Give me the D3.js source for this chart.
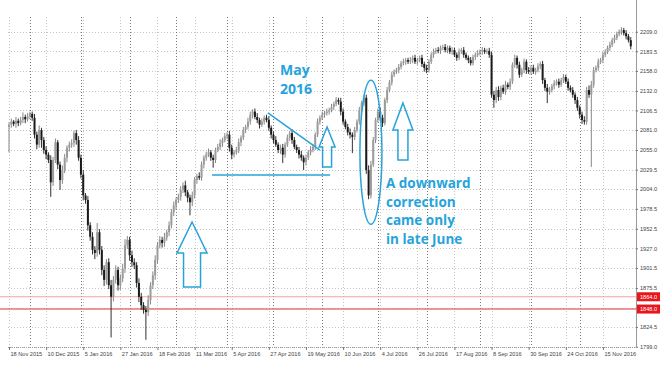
<!DOCTYPE html>
<html><head><meta charset="utf-8">
<script src="https://cdn.jsdelivr.net/npm/d3@7"></script>
<style>html,body{margin:0;padding:0;background:#fff;} svg{display:block}</style>
</head><body>
<svg id="c" width="660" height="366"></svg>
<script>
// ---------- data ----------
const firstOpen = 2085;
const closes = [
 2088,2092,2089,2093,2090,2094,2098,2095,2099,2102,
 2097,2075,2062,2081,2068,2055,2049,2042,2013,2042,
 2065,2036,2016,2029,2045,2058,2062,2064,2077,2068,
 2045,2023,1996,1990,1957,1942,1925,1921,1948,1925,
 1899,1886,1909,1879,1864,1886,1899,1879,1888,1901,
 1931,1938,1918,1909,1905,1882,1864,1853,1847,1844,
 1860,1879,1892,1912,1931,1938,1934,1941,1948,1957,
 1974,1983,1990,1994,2003,2009,2000,1993,1987,1996,
 2016,2021,2019,2036,2045,2049,2052,2045,2042,2055,
 2059,2064,2068,2073,2075,2058,2049,2052,2055,2065,
 2071,2081,2085,2092,2101,2105,2098,2094,2088,2092,
 2097,2094,2084,2075,2068,2062,2055,2058,2049,2062,
 2071,2077,2068,2059,2055,2049,2045,2039,2045,2052,
 2055,2059,2075,2092,2097,2101,2103,2105,2107,2111,
 2115,2120,2118,2105,2092,2085,2078,2075,2072,2081,
 2092,2107,2116,2123,2029,1996,2036,2068,2094,2105,
 2097,2090,2120,2133,2143,2153,2157,2159,2163,2168,
 2170,2172,2170,2172,2175,2170,2172,2175,2167,2162,
 2159,2170,2179,2183,2185,2184,2188,2189,2185,2188,
 2183,2185,2179,2175,2183,2185,2179,2175,2172,2168,
 2176,2179,2181,2183,2185,2183,2184,2179,2127,2120,
 2133,2124,2136,2131,2140,2137,2144,2166,2175,2166,
 2153,2159,2170,2159,2157,2162,2157,2159,2164,2167,
 2146,2136,2131,2133,2138,2142,2144,2140,2146,2150,
 2144,2136,2133,2127,2120,2110,2101,2094,2092,2133,
 2127,2140,2159,2162,2170,2172,2179,2183,2188,2192,
 2198,2201,2206,2209,2211,2207,2203,2198,2190];
const wickUp = [
 3,4,2,5,3,4,6,3,4,3, 3,5,4,6,3,4,5,3,6,4, 5,3,4,6,5,3,4,5,3,4, 5,4,6,3,5,4,6,5,12,4,
 5,6,4,5,7,5,6,4,5,6, 8,5,4,6,5,4,6,5,4,5, 6,4,5,6,4,5,4,6,3,5, 4,5,3,4,5,4,6,3,4,5,
 4,3,5,4,3,4,5,3,4,3, 4,5,3,4,3,5,4,3,4,5, 3,4,3,5,4,3,4,5,3,4, 3,4,5,3,4,5,3,4,5,3,
 4,3,5,4,3,4,5,3,4,3, 5,4,3,4,3,4,3,4,3,4, 3,4,3,5,4,3,4,5,3,4, 3,4,3,4,4,6,5,4,3,4,
 5,4,3,4,3,4,3,3,4,3, 4,3,3,4,3,4,3,3,4,3, 4,3,3,4,3,4,3,3,4,3, 3,4,3,3,4,3,4,3,3,4,
 3,3,4,3,4,3,3,4,4,5, 4,5,3,4,5,3,4,3,4,3, 4,3,4,3,4,3,4,3,4,3, 4,3,5,4,3,4,3,4,3,4,
 3,4,3,4,3,4,3,4,5,4, 6,5,4,3,4,3,4,3,3,4, 3,4,3,3,4,3,4,3,4];
const wickDn = [
 33,4,3,5,4,3,4,5,3,4, 4,5,6,4,10,5,6,4,19,5, 4,6,13,5,4,6,5,4,5,6, 4,5,6,5,7,5,6,8,5,6,
 7,8,6,5,53,6,5,7,6,5, 6,5,7,6,5,6,7,6,5,36, 5,6,5,6,5,4,6,5,4,5, 4,5,6,4,5,4,5,6,17,5,
 4,5,3,4,5,4,3,4,10,4, 3,4,5,3,4,5,6,4,3,4, 5,3,4,3,4,5,3,4,5,3, 4,3,4,5,4,3,4,5,11,4,
 3,4,5,3,4,5,4,10,4,3, 4,3,4,3,4,3,4,3,4,3, 4,3,4,5,4,3,4,5,21,4, 3,4,3,4,5,5,4,3,4,3,
 4,5,3,4,3,4,3,3,4,3, 3,4,3,3,4,3,4,3,4,5, 4,3,3,4,3,3,4,3,3,4, 3,4,3,4,3,3,4,3,4,3,
 3,4,3,3,4,3,3,4,4,10, 4,5,4,3,4,3,4,3,4,5, 4,3,4,5,3,4,3,4,3,4, 5,4,15,4,3,4,3,4,3,4,
 3,4,3,4,5,4,5,5,4,4, 4,94,4,3,4,3,4,3,3,4, 3,4,3,3,4,3,4,3,4];
const xTickIndex = [0,16,32,48,64,80,96,112,128,144,160,176,192,208,224,240,256];
const xTickLabels = ["18 Nov 2015","10 Dec 2015","5 Jan 2016","27 Jan 2016","18 Feb 2016","11 Mar 2016",
 "5 Apr 2016","27 Apr 2016","19 May 2016","10 Jun 2016","4 Jul 2016","26 Jul 2016","17 Aug 2016",
 "8 Sep 2016","30 Sep 2016","24 Oct 2016","15 Nov 2016"];
const monthSeparatorIndex = [9,31,52,72,94,114,135,159,180,203,225,246];
const yTickValues = [2209.0,2183.5,2158.0,2132.0,2106.5,2081.0,2055.0,2029.5,2004.0,1978.5,1952.5,
 1927.0,1901.5,1875.5,1850.0,1824.5,1799.0];
const levelValues = [1864.0, 1848.0];

// ---------- build ----------
const bars = closes.map((c, i) => {
  const o = i === 0 ? firstOpen : closes[i - 1];
  return { i, o, c, h: Math.max(o, c) + wickUp[i], l: Math.min(o, c) - wickDn[i] };
});

const svg = d3.select("#c");
const plotTop = 17, plotBottom = 347, plotLeft = 8, plotRight = 636;
const x = d3.scaleLinear().domain([0, closes.length - 1]).range([9, 9 + 2.32 * (closes.length - 1)]);
const y = d3.scaleLinear().domain([1799, 2209]).range([346.7, 31.7]);

// horizontal grid
svg.append("g").selectAll("line").data(yTickValues).join("line")
  .attr("x1", plotLeft).attr("x2", plotRight)
  .attr("y1", d => Math.round(y(d)) + 0.5).attr("y2", d => Math.round(y(d)) + 0.5)
  .attr("stroke", "#c4c4c4").attr("stroke-width", 1).attr("stroke-dasharray", "1,2");

// vertical grid at labels
svg.append("g").selectAll("line").data(xTickIndex).join("line")
  .attr("x1", d => Math.round(x(d)) + 0.5).attr("x2", d => Math.round(x(d)) + 0.5)
  .attr("y1", plotTop).attr("y2", plotBottom)
  .attr("stroke", "#c4c4c4").attr("stroke-dasharray", "1,2");

// month separators
svg.append("g").selectAll("line").data(monthSeparatorIndex).join("line")
  .attr("x1", d => Math.round(x(d)) + 0.5).attr("x2", d => Math.round(x(d)) + 0.5)
  .attr("y1", plotTop).attr("y2", plotBottom)
  .attr("stroke", "#777").attr("stroke-dasharray", "1,2");

// support levels
svg.append("g").selectAll("line").data(levelValues).join("line")
  .attr("x1", 0).attr("x2", plotRight)
  .attr("y1", d => y(d)).attr("y2", d => y(d))
  .attr("stroke", (d, i) => i === 0 ? "#f2a3a3" : "#ec7474")
  .attr("stroke-width", (d, i) => i === 0 ? 1 : 1.6);

// candles
const cg = svg.append("g");
const up = d => d.c >= d.o;
cg.selectAll("line").data(bars).join("line")
  .attr("x1", d => x(d.i)).attr("x2", d => x(d.i))
  .attr("y1", d => y(d.h)).attr("y2", d => y(d.l))
  .attr("stroke", d => up(d) ? "#7a7a7a" : "#1a1a1a").attr("stroke-width", 0.9);
cg.selectAll("rect").data(bars).join("rect")
  .attr("x", d => x(d.i) - 1).attr("width", 2)
  .attr("y", d => y(Math.max(d.o, d.c)))
  .attr("height", d => Math.max(0.9, Math.abs(y(d.o) - y(d.c))))
  .attr("fill", d => up(d) ? "#9c9c9c" : "#1a1a1a");

// right axis
svg.append("line").attr("x1", plotRight + 0.5).attr("x2", plotRight + 0.5).attr("y1", 0).attr("y2", plotBottom)
  .attr("stroke", "#9a9a9a");
const ya = svg.append("g").attr("transform", `translate(${plotRight},0)`)
  .call(d3.axisRight(y).tickValues(yTickValues).tickFormat(d3.format(".1f")).tickSize(2).tickPadding(2));
ya.select(".domain").remove();
ya.selectAll("line").attr("stroke", "#777");
ya.selectAll("text").attr("font-family", "Liberation Sans, Arial, sans-serif").attr("font-size", 5.6).attr("fill", "#444");

// bottom axis
const xa = svg.append("g").attr("transform", `translate(0,${plotBottom})`)
  .call(d3.axisBottom(x).tickValues(xTickIndex).tickFormat((d, i) => xTickLabels[i]).tickSize(3).tickPadding(2));
xa.select(".domain").attr("stroke", "#9a9a9a").attr("stroke-dasharray", "1,1").attr("d", `M${plotLeft},0.5H${plotRight}`);
xa.selectAll("line").attr("stroke", "#777");
xa.selectAll("text").attr("text-anchor", "start").attr("x", 1)
  .attr("font-family", "Liberation Sans, Arial, sans-serif").attr("font-size", 5.6).attr("fill", "#444");

// level labels
const lg = svg.append("g").selectAll("g").data(levelValues).join("g")
  .attr("transform", d => `translate(${plotRight + 1},${y(d)})`);
lg.append("rect").attr("x", 0).attr("y", -4.5).attr("width", 23).attr("height", 9).attr("fill", "#e8161c");
lg.append("text").attr("x", 3).attr("y", 2).text(d => d3.format(".1f")(d))
  .attr("font-family", "Liberation Sans, Arial, sans-serif").attr("font-size", 5.6).attr("fill", "#fff");

// ---------- annotations ----------
const blue = "#26a3dc";
const ann = svg.append("g").attr("fill", "none").attr("stroke", blue).attr("stroke-width", 1.5);
function upArrow(tipI, tipP, headW, headH, shaftW, len) {
  const tx = x(tipI), ty = y(tipP);
  const p = [[tx, ty], [tx + headW / 2, ty + headH], [tx + shaftW / 2, ty + headH], [tx + shaftW / 2, ty + len],
    [tx - shaftW / 2, ty + len], [tx - shaftW / 2, ty + headH], [tx - headW / 2, ty + headH]];
  ann.append("path").attr("d", d3.line()(p) + "Z");
}
upArrow(78.9, 1961.3, 30, 31, 17, 65);
upArrow(137.1, 2085.0, 16, 20, 9, 40);
upArrow(169.8, 2116.2, 20, 27, 10, 57);
// support line
ann.append("line").attr("x1", x(87.5)).attr("x2", x(138.4)).attr("y1", y(2022.5)).attr("y2", y(2022.5));
// falling trend line
ann.append("line").attr("x1", x(111.6)).attr("y1", y(2103.2)).attr("x2", x(134)).attr("y2", y(2055));
// ellipse
ann.append("ellipse").attr("cx", x(156)).attr("cy", y(2052)).attr("rx", 11).attr("ry", 72);

const tg = svg.append("g").attr("fill", blue).attr("font-family", "Open Sans, Lato, sans-serif")
  .attr("font-weight", "bold").attr("font-size", 14);
tg.append("text").attr("x", 280).attr("y", 75).text("May");
tg.append("text").attr("x", 280).attr("y", 94).text("2016");
["A downward", "correction", "came only", "in late June"].forEach((t, k) => {
  tg.append("text").attr("x", 386).attr("y", 188 + k * 18.6).attr("font-size", 13.5).text(t);
});
</script>
</body></html>
